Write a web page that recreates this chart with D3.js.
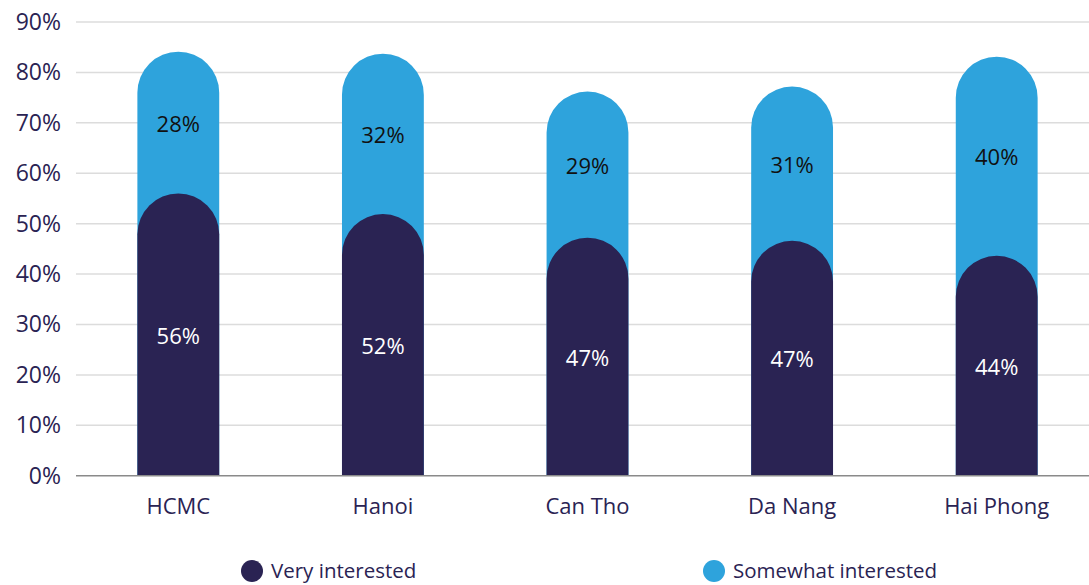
<!DOCTYPE html>
<html><head><meta charset="utf-8">
<script src="https://cdn.jsdelivr.net/npm/d3@7"></script>
<style>body{margin:0;background:#fff}svg{display:block}text{font-family:"Open Sans",Lato,sans-serif}</style>
</head><body>
<svg id="c" width="1089" height="585"></svg>
<script>
const categories = ["HCMC","Hanoi","Can Tho","Da Nang","Hai Phong"];
const veryInterested = [56, 51.9, 47.2, 46.6, 43.6];
const somewhatInterested = [28.1, 31.8, 29.0, 30.6, 39.5];
const veryLabels = ["56%","52%","47%","47%","44%"];
const somewhatLabels = ["28%","32%","29%","31%","40%"];
const yTicks = [0,10,20,30,40,50,60,70,80,90];
const seriesNames = ["Very interested","Somewhat interested"];
const colors = ["#2a2353","#2ea3dc"];

const svg = d3.select("#c");
const x = d3.scaleBand().domain(categories).range([76,1099]).paddingInner(0.6).paddingOuter(0.3);
const y = d3.scaleLinear().domain([0,90]).range([475.7,22]);
const FONT = "'Open Sans', Lato, sans-serif";

// gridlines
svg.append("g").selectAll("line").data(yTicks.filter(d=>d>0)).join("line")
  .attr("x1",76).attr("x2",1089).attr("y1",d=>y(d)).attr("y2",d=>y(d))
  .attr("stroke","#dcdcdc").attr("stroke-width",1.5);

// y axis labels
const yAxis = d3.axisLeft(y).tickValues(yTicks).tickFormat(d=>d+"%").tickSize(0).tickPadding(0);
const ya = svg.append("g").attr("transform","translate(61,0)").call(yAxis);
ya.select(".domain").remove();
ya.selectAll("text").attr("font-size",23).attr("fill","#2a2353").attr("font-family",FONT);

function capsule(xl, w, yTop, yBase){
  const r = w/2;
  const p = d3.path();
  p.moveTo(xl, yBase);
  p.lineTo(xl, yTop + r);
  p.arc(xl + r, yTop + r, r, Math.PI, 0);
  p.lineTo(xl + w, yBase);
  p.closePath();
  return p.toString();
}

const bw = x.bandwidth();
// light (total) bars
svg.append("g").selectAll("path").data(categories).join("path")
  .attr("d",(d,i)=>capsule(x(d), bw, y(veryInterested[i]+somewhatInterested[i]), y(0)))
  .attr("fill",colors[1]);
// dark bars
svg.append("g").selectAll("path").data(categories).join("path")
  .attr("d",(d,i)=>capsule(x(d), bw, y(veryInterested[i]), y(0)))
  .attr("fill",colors[0]);

// axis baseline
svg.append("line").attr("x1",76).attr("x2",1089).attr("y1",y(0)).attr("y2",y(0))
  .attr("stroke","#8a8a8a").attr("stroke-width",1.5);

// value labels
svg.append("g").selectAll("text").data(categories).join("text")
  .attr("x",d=>x(d)+bw/2).attr("y",(d,i)=>y(veryInterested[i]/2))
  .attr("text-anchor","middle").attr("dominant-baseline","central")
  .attr("font-size",22).attr("fill","#ffffff").text((d,i)=>veryLabels[i]);
svg.append("g").selectAll("text").data(categories).join("text")
  .attr("x",d=>x(d)+bw/2).attr("y",(d,i)=>y(veryInterested[i]+somewhatInterested[i]/2))
  .attr("text-anchor","middle").attr("dominant-baseline","central")
  .attr("font-size",22).attr("fill","#111111").text((d,i)=>somewhatLabels[i]);

// x axis labels
const xAxis = d3.axisBottom(x).tickSize(0).tickPadding(0);
const xa = svg.append("g").attr("transform","translate(0,506)").call(xAxis);
xa.select(".domain").remove();
xa.selectAll("text").attr("font-size",22).attr("fill","#2a2353").attr("font-family",FONT)
  .attr("dy","0.35em");

// legend
const legendX = [252, 714];
const lg = svg.append("g").selectAll("g").data(seriesNames).join("g")
  .attr("transform",(d,i)=>`translate(${legendX[i]},571)`);
lg.append("circle").attr("r",11).attr("fill",(d,i)=>colors[i]);
lg.append("text").attr("x",19).attr("dy","0.35em").attr("font-size",20.5)
  .attr("fill","#2a2353").text(d=>d);
</script>
</body></html>
